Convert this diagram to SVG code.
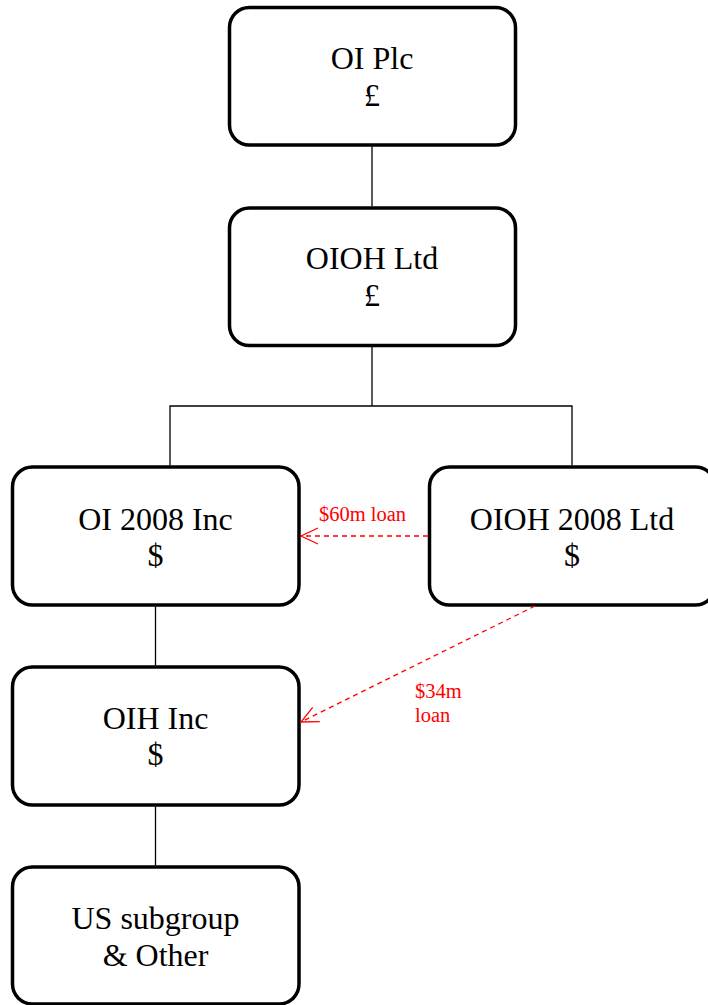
<svg xmlns="http://www.w3.org/2000/svg" width="708" height="1005" viewBox="0 0 708 1005">
<style>
.box{fill:#fff;stroke:#000;stroke-width:3.5}
.t{font-family:"Liberation Serif","Times New Roman",serif;font-size:32px;fill:#000;text-anchor:middle}
.c{stroke:#000;stroke-width:1.3;fill:none}
.loan{stroke:#ff0000;stroke-width:1.3;stroke-dasharray:5,4;fill:none}
.lt{font-family:"Liberation Serif","Times New Roman",serif;font-size:20.5px;fill:#ff0000}
</style>
<defs>
<marker id="ah" viewBox="0 0 20 20" refX="19" refY="10" markerWidth="20" markerHeight="20" markerUnits="userSpaceOnUse" orient="auto">
<path d="M2,2 L19,10 L2,18" fill="none" stroke="#ff0000" stroke-width="1.3"/>
</marker>
</defs>
<rect width="708" height="1005" fill="#fff"/>
<g id="oiplc">
<rect class="box" x="229.5" y="7.5" width="286" height="137.5" rx="20"/>
<text class="t" x="372" y="69">OI Plc</text>
<text class="t" x="372" y="106">£</text>
</g>
<g id="oiohltd">
<rect class="box" x="229.5" y="208" width="286" height="137.5" rx="20"/>
<text class="t" x="372" y="269">OIOH Ltd</text>
<text class="t" x="372" y="306">£</text>
</g>
<g id="oi2008">
<rect class="box" x="12.5" y="467" width="286.5" height="138" rx="20"/>
<text class="t" x="155.5" y="530">OI 2008 Inc</text>
<text class="t" x="155.5" y="566">$</text>
</g>
<g id="oioh2008">
<rect class="box" x="429.5" y="467" width="286" height="138" rx="20"/>
<text class="t" x="572" y="530">OIOH 2008 Ltd</text>
<text class="t" x="572" y="566">$</text>
</g>
<g id="oihinc">
<rect class="box" x="12.5" y="667" width="286.5" height="138" rx="20"/>
<text class="t" x="155.5" y="729">OIH Inc</text>
<text class="t" x="155.5" y="765">$</text>
</g>
<g id="ussub">
<rect class="box" x="12.5" y="867" width="286.5" height="137" rx="20"/>
<text class="t" x="155.5" y="929">US subgroup</text>
<text class="t" x="155.5" y="966">&amp; Other</text>
</g>
<g id="connectors">
<path class="c" d="M372,146.5 V206.5"/>
<path class="c" d="M372,347 V406"/>
<path class="c" d="M170,465.5 V406 H572 V465.5"/>
<path class="c" d="M155.5,606.5 V665.5"/>
<path class="c" d="M155.5,806.5 V865.5"/>
<path class="loan" d="M428,536 H301" marker-end="url(#ah)"/>
<path class="loan" d="M535,606 L301,722" marker-end="url(#ah)"/>
<text class="lt" x="319" y="521">$60m loan</text>
<text class="lt" x="415" y="698">$34m</text>
<text class="lt" x="415" y="722">loan</text>
</g>
</svg>
